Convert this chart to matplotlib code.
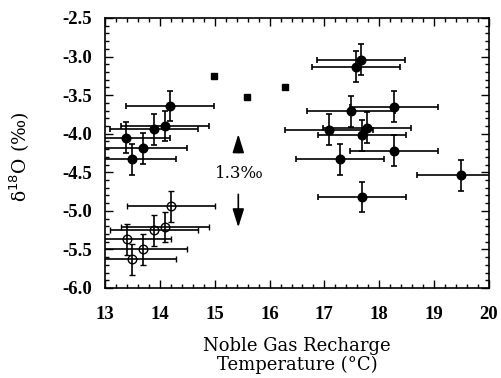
import matplotlib
matplotlib.use("Agg")
import matplotlib.pyplot as plt
from matplotlib.ticker import MultipleLocator

# filled circles
fx = [14.18, 14.09, 13.90, 13.39, 13.70, 13.50, 17.67, 17.58, 17.48, 18.27, 17.08, 17.78, 17.69, 18.27, 17.28, 19.49, 17.69]
fy = [-3.64, -3.90, -3.94, -4.05, -4.19, -4.33, -3.04, -3.13, -3.71, -3.65, -3.95, -3.92, -4.02, -4.22, -4.33, -4.54, -4.82]
fxerr = [0.8] * 17
fyerr = [0.2] * 17

# open circles
ox = [14.20, 14.09, 13.90, 13.41, 13.70, 13.50]
oy = [-4.94, -5.21, -5.25, -5.37, -5.50, -5.63]
oxerr = [0.8] * 6
oyerr = [0.2] * 6

# squares
sx = [14.99, 15.58, 16.28]
sy = [-3.25, -3.52, -3.40]

arrow_x = 15.43
arrow_top = -3.97
arrow_bottom = -5.25
arrow_label = "1.3‰"

plt.rcParams['font.family'] = ['DejaVu Serif']

fig = plt.figure(figsize=(5.01, 3.78), dpi=100)
ax = fig.add_axes([105/501, 1-288/378, (489-105)/501, (288-18)/378])

ekw = dict(ecolor='black', elinewidth=1.2, capsize=2.5, capthick=1.2, linestyle='none')
ax.errorbar(fx, fy, xerr=fxerr, yerr=fyerr, fmt='o', color='black', markersize=6.2, **ekw)
ax.errorbar(ox, oy, xerr=oxerr, yerr=oyerr, fmt='o', color='black', markerfacecolor='none',
            markeredgewidth=1.0, markersize=6.2, **ekw)
ax.plot(sx, sy, 's', color='black', markersize=4.5, linestyle='none')

ax.annotate('', xy=(arrow_x, arrow_top), xytext=(arrow_x, -4.28),
            arrowprops=dict(arrowstyle='-|>,head_length=0.8,head_width=0.25', color='black', lw=1.2, mutation_scale=14))
ax.annotate('', xy=(arrow_x, arrow_bottom), xytext=(arrow_x, -4.75),
            arrowprops=dict(arrowstyle='-|>,head_length=0.8,head_width=0.25', color='black', lw=1.2, mutation_scale=14))
ax.text(arrow_x + 0.02, -4.51, arrow_label, ha='center', va='center', fontsize=12)

ax.set_xlim(13, 20)
ax.set_ylim(-6.0, -2.5)
ax.set_xticks(range(13, 21))
ax.set_yticks([-6.0, -5.5, -5.0, -4.5, -4.0, -3.5, -3.0, -2.5])
ax.set_yticklabels(['-6.0', '-5.5', '-5.0', '-4.5', '-4.0', '-3.5', '-3.0', '-2.5'])
ax.xaxis.set_minor_locator(MultipleLocator(0.2))
ax.yaxis.set_minor_locator(MultipleLocator(0.1))
ax.tick_params(which='both', direction='in', top=True, right=True, width=1)
ax.tick_params(which='major', length=6, labelsize=13.5)
ax.tick_params(axis='y', which='major', pad=9.5)
ax.tick_params(axis='x', which='major', pad=13)
ax.tick_params(which='minor', length=3)
for lab in ax.get_xticklabels() + ax.get_yticklabels():
    lab.set_fontweight('bold')
    lab.set_family(['Liberation Serif', 'DejaVu Serif'])
for s in ax.spines.values():
    s.set_linewidth(1.2)

ax.set_xlabel('Noble Gas Recharge\nTemperature (°C)', fontsize=13, linespacing=1.0)
ax.xaxis.set_label_coords(0.5, -0.183)
ax.set_ylabel('δ$^{18}$O (‰)', fontsize=13.5)
ax.yaxis.set_label_coords(-0.19, 0.485)

fig.savefig('out.png', dpi=100)
